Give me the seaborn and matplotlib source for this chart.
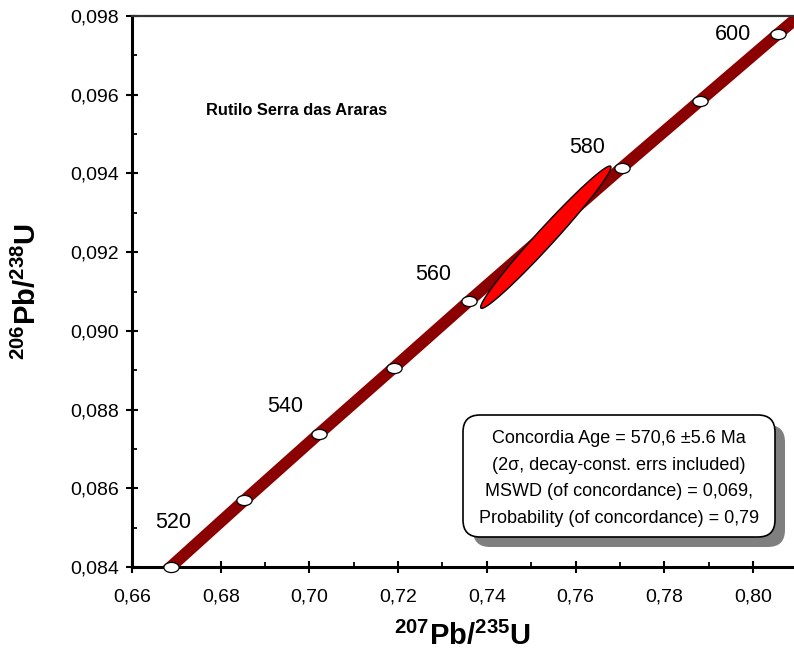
import numpy as np
import pandas as pd
import matplotlib
matplotlib.use("Agg")
import matplotlib.pyplot as plt
import matplotlib.ticker as mticker
from matplotlib.path import Path
from matplotlib.markers import MarkerStyle
from matplotlib.patches import FancyBboxPatch
from matplotlib.transforms import IdentityTransform, Affine2D
import seaborn as sns

# ---------------- data ----------------
ages = [520, 530, 540, 550, 560, 570, 580, 590, 600]
mark_x = [0.6688, 0.6853, 0.7021, 0.7190, 0.7360, 0.7532, 0.7704, 0.7880, 0.8056]
mark_y = [0.08401, 0.08569, 0.08738, 0.08906, 0.09076, 0.09245, 0.09414, 0.09584, 0.09754]

# concordia band, extended a little past the axes so that it is clipped
curve_x = [0.6525] + mark_x + [0.8235]
curve_y = [0.08233] + mark_y + [0.09925]

label_ages = ["520", "540", "560", "580", "600"]
label_x = [0.6692, 0.6945, 0.7279, 0.7626, 0.7955]
label_y = [0.08512, 0.08807, 0.09142, 0.09465, 0.09752]

# error ellipse: centre, half-widths and correlation
ell_cx, ell_cy = 0.7533, 0.09238
ell_sx, ell_sy, ell_rho = 0.01469, 0.001808, 0.983

title_text = "Rutilo Serra das Araras"
box_lines = [
    "Concordia Age = 570,6 \u00b15.6 Ma",
    "(2\u03c3, decay-const. errs included)",
    "MSWD (of concordance) = 0,069,",
    "Probability (of concordance) = 0,79",
]
x_ticks = [0.66, 0.68, 0.70, 0.72, 0.74, 0.76, 0.78, 0.80]
y_ticks = [0.084, 0.086, 0.088, 0.090, 0.092, 0.094, 0.096, 0.098]

# ---------------- style ----------------
sns.set_theme(style="white")
plt.rcParams["font.family"] = ["Liberation Sans", "DejaVu Sans"]
plt.rcParams["text.color"] = "black"
plt.rcParams["axes.labelcolor"] = "black"
plt.rcParams["mathtext.fontset"] = "custom"
plt.rcParams["mathtext.rm"] = "Liberation Sans"
plt.rcParams["mathtext.bf"] = "Liberation Sans:bold"

W, H = 794, 664
fig = plt.figure(figsize=(W / 100, H / 100), dpi=100)
ax = fig.add_axes([132 / W, (H - 567) / H, (794 - 132) / W, (567 - 16) / H])

# concordia curve
sns.lineplot(x=curve_x, y=curve_y, sort=False, estimator=None, color="#8B0000",
             linewidth=8.5, ax=ax, zorder=2, legend=False)

# age markers: flat white ellipses
circ = Path.unit_circle()
ell_path = circ.transformed(Affine2D().scale(1.5, 1.0))
df = pd.DataFrame({"x": mark_x, "y": mark_y, "age": ages})
sns.scatterplot(data=df, x="x", y="y", marker=MarkerStyle(ell_path), s=120,
                color="white", edgecolor="black", linewidth=0.9, ax=ax, zorder=3,
                legend=False, clip_on=False)

# error ellipse
t = np.linspace(0, 2 * np.pi, 400)
ex = ell_cx + ell_sx * np.cos(t)
ey = ell_cy + ell_sy * (ell_rho * np.cos(t) + np.sqrt(1 - ell_rho ** 2) * np.sin(t))
ax.fill(ex, ey, facecolor="#FF0000", edgecolor="black", linewidth=1.0, zorder=4)

# age labels
for lab, lx, ly in zip(label_ages, label_x, label_y):
    ax.text(lx, ly, lab, ha="center", va="center", fontsize=15.5, color="black", zorder=5)

# sample name
ax.text(0.6972, 0.09561, title_text, ha="center", va="center", fontsize=11.8,
        fontweight="bold", color="black", zorder=5)

# axes limits / ticks
ax.set_xlim(0.66, 0.66 + 662 / 4435)
ax.set_ylim(0.084, 0.098)
ax.set_xticks(x_ticks)
ax.set_yticks(y_ticks)
ax.xaxis.set_minor_locator(mticker.MultipleLocator(0.01))
ax.yaxis.set_minor_locator(mticker.MultipleLocator(0.001))
ax.xaxis.set_major_formatter(mticker.FuncFormatter(lambda v, p: f"{v:.2f}".replace(".", ",")))
ax.yaxis.set_major_formatter(mticker.FuncFormatter(lambda v, p: f"{v:.3f}".replace(".", ",")))
ax.tick_params(axis="both", which="major", direction="inout", length=8.5, width=1.5,
               colors="black", labelsize=14, bottom=True, left=True)
ax.tick_params(axis="x", which="major", pad=11)
ax.tick_params(axis="y", which="major", pad=5)
ax.tick_params(axis="both", which="minor", direction="in", length=3.5, width=1.3,
               colors="black", bottom=True, left=True)
ax.set_xlabel("")
ax.set_ylabel("")

for s in ["left", "bottom"]:
    ax.spines[s].set_color("black")
    ax.spines[s].set_linewidth(2.2)
ax.spines["top"].set_color("#333333")
ax.spines["top"].set_linewidth(1.6)
ax.spines["right"].set_visible(False)
ax.grid(False)

# axis titles
fig.text(462 / W, (H - 636) / H, r"$\mathbf{^{207}Pb/^{235}U}$", ha="center", va="center",
         fontsize=21, color="black")
fig.text(27 / W, (H - 292) / H, r"$\mathbf{^{206}Pb/^{238}U}$", ha="center", va="center",
         fontsize=21, rotation=90, color="black")

# result box with shadow (pixel coordinates)
bx0, by0, bw, bh = 463, H - 537, 312, 122
shadow = FancyBboxPatch((bx0 + 10, by0 - 10), bw, bh,
                        boxstyle="round,pad=0,rounding_size=17",
                        transform=IdentityTransform(), facecolor="#7f7f7f",
                        edgecolor="none", zorder=6)
box = FancyBboxPatch((bx0, by0), bw, bh, boxstyle="round,pad=0,rounding_size=17",
                     transform=IdentityTransform(), facecolor="white",
                     edgecolor="black", linewidth=1.2, zorder=7)
fig.add_artist(shadow)
fig.add_artist(box)
fig.text((bx0 + bw / 2) / W, (H - 478.5) / H, "\n".join(box_lines), ha="center",
         va="center", fontsize=13, linespacing=1.72, color="black", zorder=8)

fig.savefig("out.png", dpi=100)
